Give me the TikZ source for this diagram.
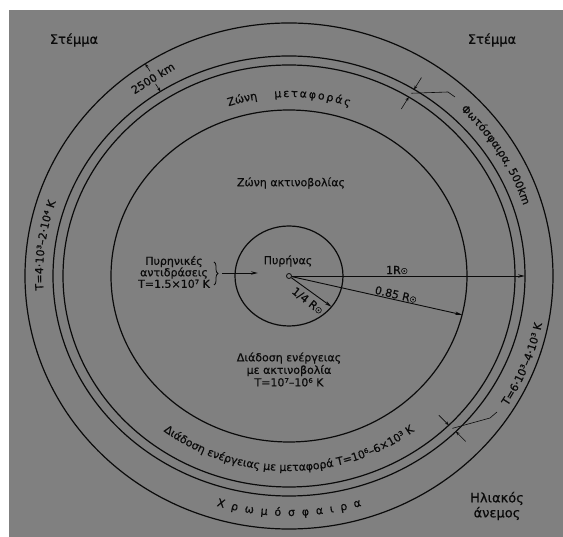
\documentclass[tikz,border=0pt]{standalone}
\usepackage{fontspec}
\setmainfont{DejaVu Sans}[FakeBold=0.5]
\usetikzlibrary{arrows.meta,decorations.text,decorations.pathreplacing,calc}
\definecolor{bggray}{RGB}{128,128,128}
\definecolor{ink}{RGB}{10,10,10}
\newcommand{\sunR}{R{\fontsize{8}{8}\selectfont ☉}}
\begin{document}
\begin{tikzpicture}[x=1pt,y=1pt,
  ring/.style={draw=ink,line width=1.2pt},
  lbl/.style={text=ink,font=\fontsize{11}{12}\selectfont,inner sep=0pt,align=center},
  biglbl/.style={text=ink,font=\fontsize{13}{15}\selectfont,inner sep=0pt,align=center},
  radarrow/.style={draw=ink,line width=0.9pt,-{Stealth[length=7pt,width=3.4pt]}},
  dimarrow/.style={draw=ink,line width=0.6pt,-{Stealth[length=4pt,width=3pt]}},
  leader/.style={draw=ink,line width=0.6pt},
  bracestyle/.style={draw=ink,line width=0.8pt,decorate,decoration={brace,amplitude=4pt}}
]
\useasboundingbox (-289,-261) rectangle (274,276);
\fill[white] (-289,-261) rectangle (274,276);
\fill[bggray] (-280,-261) rectangle (274,266);

\coordinate (C) at (0,0);
% rings
\draw[ring] (C) ellipse[x radius=264pt,y radius=253pt];
\draw[ring] (C) ellipse[x radius=236pt,y radius=220pt];
\draw[ring] (C) ellipse[x radius=226pt,y radius=211pt];
\draw[ring] (C) ellipse[x radius=178pt,y radius=166pt];
\draw[ring] (C) ellipse[x radius=54pt,y radius=50pt];

% centre and radii
\node[circle,draw=ink,line width=0.8pt,inner sep=0pt,minimum size=5pt] (o) at (C) {};
\coordinate (r1) at ($(C)+(0:236pt and 220pt)$);
\coordinate (r085) at ($(C)+(-13.5:178pt and 166pt)$);
\coordinate (r14) at ($(C)+(-38:54pt and 50pt)$);
\draw[radarrow] (o) -- (r1);
\draw[radarrow] (o) -- (r085);
\draw[radarrow] (o) -- (r14);
\node[lbl] (l1) at (108,6) {1\sunR};
\node[lbl,rotate=-13] (l085) at (107,-18.5) {0.85 \sunR};
\node[lbl,rotate=-38] (l14) at (18.5,-25) {1/4 \sunR};

% texts
\node[biglbl] (stL) at (-215,236) {Στέμμα};
\node[biglbl] (stR) at (203,236) {Στέμμα};
\node[lbl] (zak) at (2,93) {Ζώνη ακτινοβολίας};
\node[lbl] (pyr) at (-1,15) {Πυρήνας};
\node[lbl,font=\fontsize{11}{11.5}\selectfont] (nuc) at (-115,4) {Πυρηνικές\\αντιδράσεις\\T=1.5×10⁷ K};
\node[lbl,font=\fontsize{11}{12.5}\selectfont] (diad) at (0,-93.5) {Διάδοση ενέργειας\\με ακτινοβολία\\T=10⁷–10⁶ K};
\node[biglbl] (wind) at (208,-230) {Ηλιακός\\άνεμος};

% brace and arrow to core
\coordinate (bt) at (-75,14);
\coordinate (bb) at (-75,-9);
\draw[bracestyle] (bt) -- (bb);
\coordinate (na) at (-67,3);
\coordinate (nb) at (-31,3);
\draw[radarrow] (na) -- (nb);

% 2500 km dimension
\coordinate (a1) at ($(C)+(123:255pt and 244pt)$);
\coordinate (a1t) at ($(C)+(123:264pt and 253pt)$);
\coordinate (a2) at ($(C)+(123:245pt and 229pt)$);
\coordinate (a2t) at ($(C)+(123:236pt and 220pt)$);
\draw[dimarrow] (a1) -- (a1t);
\draw[dimarrow] (a2) -- (a2t);
\node[lbl,rotate=32] (km) at ($(C)+(123:250pt and 236pt)$) {2500 km};

% photosphere dimension (top right)
\coordinate (p1) at ($(C)+(58:250pt and 234pt)$);
\coordinate (p1t) at ($(C)+(58:236pt and 220pt)$);
\coordinate (p2) at ($(C)+(58:212pt and 197pt)$);
\coordinate (p2t) at ($(C)+(58:226pt and 211pt)$);
\draw[dimarrow] (p1) -- (p1t);
\draw[dimarrow] (p2) -- (p2t);
\coordinate (pm) at ($(C)+(58:231pt and 215.5pt)$);
\coordinate (pl1) at (159,184);
\coordinate (pl2) at (166,179);
\draw[leader] (pm) -- (pl1) -- (pl2);

% photosphere dimension (bottom right)
\coordinate (q1) at ($(C)+(-45:250pt and 234pt)$);
\coordinate (q1t) at ($(C)+(-45:236pt and 220pt)$);
\coordinate (q2) at ($(C)+(-45:212pt and 197pt)$);
\coordinate (q2t) at ($(C)+(-45:226pt and 211pt)$);
\draw[dimarrow] (q1) -- (q1t);
\draw[dimarrow] (q2) -- (q2t);
\coordinate (qm) at ($(C)+(-45:231pt and 215.5pt)$);
\coordinate (ql1) at (201,-142);
\coordinate (ql2) at (208,-136);
\draw[leader] (qm) -- (ql1) -- (ql2);

% curved texts
\path[decorate,decoration={text along path,text align=center,text color=ink,
  text={|\fontsize{11}{13}\selectfont|Ζώνη{\kern17pt}μ{\kern1.8pt}ε{\kern1.8pt}τ{\kern1.8pt}α{\kern1.8pt}φ{\kern1.8pt}ο{\kern1.8pt}ρ{\kern1.8pt}ά{\kern1.8pt}ς}}]
  ($(C)+(125:190pt and 179pt)$) arc[start angle=125,end angle=55,x radius=190pt,y radius=179pt];

\path[decorate,decoration={text along path,text align=center,text color=ink,
  text={|\fontsize{11}{13}\selectfont|Διάδοση ενέργειας με μεταφορά T=10⁶–6×10³ K}}]
  ($(C)+(215:207pt and 195pt)$) arc[start angle=215,end angle=325,x radius=207pt,y radius=195pt];

\path[decorate,decoration={text along path,text align=center,text color=ink,
  text={|\fontsize{11}{13}\selectfont|Χ{\kern7pt}ρ{\kern7pt}ω{\kern7pt}μ{\kern7pt}ό{\kern7pt}σ{\kern7pt}φ{\kern7pt}α{\kern7pt}ι{\kern7pt}ρ{\kern7pt}α}}]
  ($(C)+(235:252pt and 240pt)$) arc[start angle=235,end angle=305,x radius=252pt,y radius=240pt];

\path[decorate,decoration={text along path,text align=center,text color=ink,
  text={|\fontsize{11}{13}\selectfont|Φωτόσφαιρα, 500km}}]
  ($(C)+(60:246pt and 232pt)$) arc[start angle=60,end angle=3,x radius=246pt,y radius=232pt];

\path[decorate,decoration={text along path,text align=center,text color=ink,
  text={|\fontsize{11}{13}\selectfont|T=6·10³–4·10³ K}}]
  ($(C)+(-46:258pt and 245pt)$) arc[start angle=-46,end angle=3,x radius=258pt,y radius=245pt];

\path[decorate,decoration={text along path,text align=center,text color=ink,
  text={|\fontsize{11}{13}\selectfont|T=4·10³–2·10⁴ K}}]
  ($(C)+(193:246pt and 233pt)$) arc[start angle=193,end angle=152,x radius=246pt,y radius=233pt];
\end{tikzpicture}
\end{document}
